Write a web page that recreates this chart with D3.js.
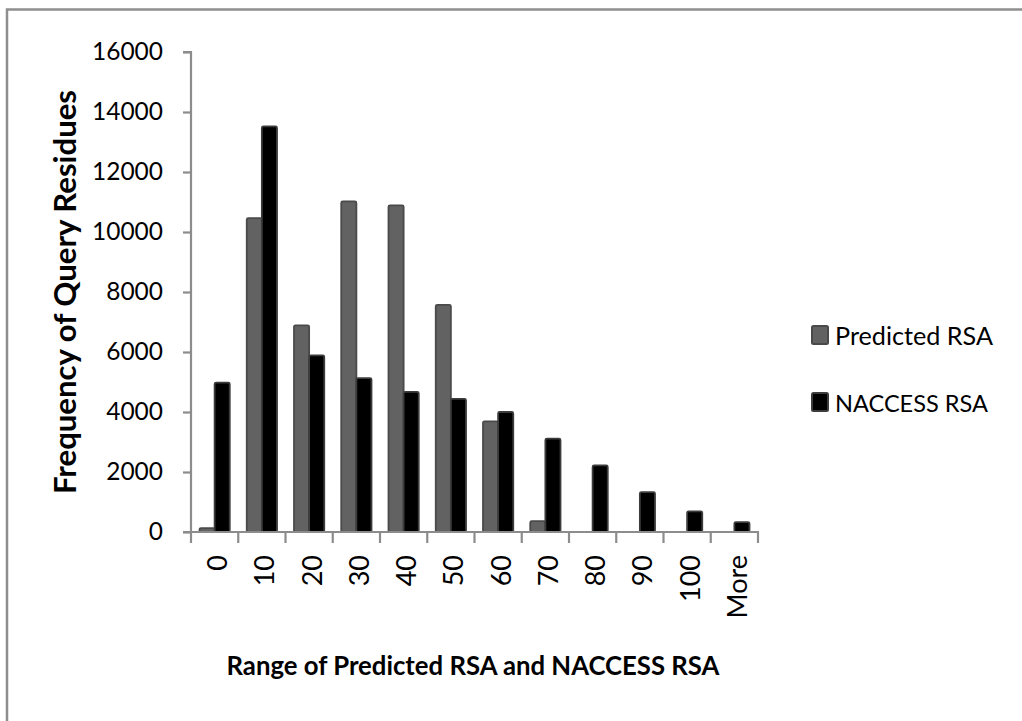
<!DOCTYPE html>
<html>
<head>
<meta charset="utf-8">
<script src="https://cdn.jsdelivr.net/npm/d3@7"></script>
<style>
  html, body { margin: 0; padding: 0; background: #fff; }
  svg { display: block; }
  text { font-family: Lato, "Open Sans", sans-serif; fill: #000; }
</style>
</head>
<body>
<svg id="chart" width="1022" height="721"></svg>
<script>
// ---- data ----
const categories = ["0", "10", "20", "30", "40", "50", "60", "70", "80", "90", "100", "More"];
const seriesNames = ["Predicted RSA", "NACCESS RSA"];
const predicted = [130, 10460, 6890, 11020, 10890, 7570, 3690, 360, 0, 0, 0, 0];
const naccess = [4980, 13520, 5890, 5130, 4670, 4440, 4000, 3110, 2220, 1330, 690, 330];
const yTicks = [0, 2000, 4000, 6000, 8000, 10000, 12000, 14000, 16000];
const xTitle = "Range of Predicted RSA and NACCESS RSA";
const yTitle = "Frequency of Query Residues";

(function () {
const colors = { "Predicted RSA": "#626262", "NACCESS RSA": "#000000" };
const strokes = { "Predicted RSA": "#4a4a4a", "NACCESS RSA": "#3c3c3c" };

const svg = d3.select("#chart");

function fit(sel, targetW, base) {
  sel.style("font-size", base + "px");
  const w = sel.node().getComputedTextLength();
  sel.style("font-size", (base * targetW / w).toFixed(2) + "px");
}

// outer frame (open to the right/bottom)
svg.append("path")
  .attr("d", "M7,730 L7,9.5 L1030,9.5")
  .attr("fill", "none").attr("stroke", "#8e8e8e").attr("stroke-width", 2.5);

const pLeft = 191, pRight = 758, pTop = 52, pBottom = 532;

const x = d3.scaleBand().domain(categories).range([pLeft, pRight])
  .paddingInner(0.36).paddingOuter(0.18);
const x1 = d3.scaleBand().domain(seriesNames).range([0, x.bandwidth()]);
const y = d3.scaleLinear().domain([0, 16000]).range([pBottom, pTop]);

const rows = categories.map((c, i) => ({ cat: c, values: [
  { name: seriesNames[0], v: predicted[i] },
  { name: seriesNames[1], v: naccess[i] }
]}));

// bars
const g = svg.append("g");
g.selectAll("g.cat").data(rows).join("g")
  .attr("transform", d => `translate(${x(d.cat)},0)`)
  .selectAll("rect").data(d => d.values.filter(e => e.v > 0)).join("rect")
  .attr("x", d => x1(d.name))
  .attr("width", x1.bandwidth())
  .attr("y", d => y(d.v))
  .attr("height", d => y(0) - y(d.v))
  .attr("rx", 1.5)
  .attr("fill", d => colors[d.name])
  .attr("stroke", d => strokes[d.name])
  .attr("stroke-width", 1.8);

// y axis
const yAxis = svg.append("g").attr("transform", `translate(${pLeft},0)`)
  .call(d3.axisLeft(y).tickValues(yTicks).tickFormat(d3.format("d")).tickSize(8).tickPadding(20));
yAxis.select(".domain").attr("stroke", "#8c8c8c").attr("stroke-width", 2.2)
  .attr("d", `M-8,${pTop}H0V${pBottom}`);
yAxis.selectAll(".tick line").attr("stroke", "#8c8c8c").attr("stroke-width", 2.2);
const lbl = yAxis.selectAll(".tick text").style("font-family", "Lato, sans-serif").attr("fill", "#000");
{
  const t = yAxis.selectAll(".tick").filter(d => d === 16000).select("text");
  fit(t, 71, 24);
  lbl.style("font-size", t.style("font-size"));
}

// x axis: baseline, boundary ticks, rotated labels
const step = x.step();
const start = x(categories[0]) - (step - x.bandwidth()) / 2;
const bounds = d3.range(categories.length + 1).map(i => start + i * step);
svg.append("line").attr("x1", pLeft - 8).attr("x2", bounds[bounds.length - 1] + 1)
  .attr("y1", pBottom).attr("y2", pBottom)
  .attr("stroke", "#8c8c8c").attr("stroke-width", 2.2);
svg.selectAll("line.xt").data(bounds).join("line").attr("class", "xt")
  .attr("x1", d => d).attr("x2", d => d).attr("y1", pBottom).attr("y2", pBottom + 11)
  .attr("stroke", "#8c8c8c").attr("stroke-width", 2.2);
const xl = svg.selectAll("text.xl").data(categories).join("text").attr("class", "xl")
  .attr("transform", d => `translate(${x(d) + x.bandwidth() / 2 + 3},555) rotate(-90)`)
  .attr("text-anchor", "end")
  .attr("dy", "0.35em")
  .text(d => d);
{
  const t = xl.filter(d => d === "100");
  fit(t, 47, 24);
  xl.style("font-size", t.style("font-size"));
}

// axis titles
const xt = svg.append("text").attr("x", 473).attr("y", 675).attr("text-anchor", "middle")
  .style("font-weight", "bold").text(xTitle);
fit(xt, 493, 24);
const yt = svg.append("text").attr("transform", "translate(76,292) rotate(-90)")
  .attr("text-anchor", "middle").style("font-weight", "bold").text(yTitle);
fit(yt, 404, 24);

// legend
const legend = svg.append("g");
const legY = [335, 402];
seriesNames.forEach((s, i) => {
  legend.append("rect").attr("x", 812).attr("y", legY[i] - 9).attr("width", 16).attr("height", 18)
    .attr("rx", 1.5)
    .attr("fill", colors[s]).attr("stroke", strokes[s]).attr("stroke-width", 2);
  const t = legend.append("text").attr("x", 835).attr("y", legY[i] + 10).text(s);
  fit(t, i === 0 ? 158 : 153, 24);
});
})();
</script>
</body>
</html>
